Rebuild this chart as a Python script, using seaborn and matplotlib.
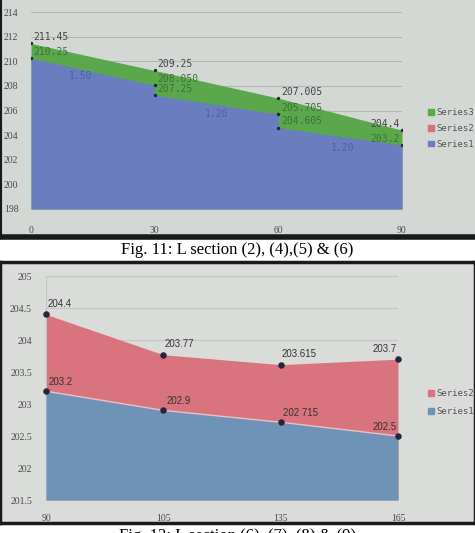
import numpy as np
import pandas as pd
import matplotlib
matplotlib.use("Agg")
import matplotlib.pyplot as plt
import seaborn as sns
from matplotlib.patches import Patch

# Fig. 11 values (chainage vs level)
ch1_x = [0, 30, 60, 90]
series3_top = [211.45, 209.25, 207.005, 204.4]
bed_x = [0, 30, 30, 60, 60, 90]
series1_bed = [210.25, 208.05, 207.25, 205.705, 204.605, 203.2]
bed_labels = ["210.25", "208.050", "207.25", "205.705", "204.605", "203.2"]
slope_labels = ["1.50", "1.20", "1.20"]
slope_pos = [(12, 208.8), (45, 205.75), (75.5, 202.95)]
ticks1 = [198, 200, 202, 204, 206, 208, 210, 212, 214]

# Fig. 12 values
ch2 = ["90", "105", "135", "165"]
series2_top = [204.4, 203.77, 203.615, 203.7]
series1_low = [203.2, 202.9, 202.715, 202.5]
top2_labels = ["204.4", "203.77", "203.615", "203.7"]
low2_labels = ["203.2", "202.9", "202 715", "202.5"]
ticks2 = [201.5, 202, 202.5, 203, 203.5, 204, 204.5, 205]

sns.set_style("white")
plt.rcParams["font.family"] = ["DejaVu Sans"]

W, H = 475, 533
fig = plt.figure(figsize=(W / 100, H / 100), dpi=100)
fig.patch.set_facecolor("white")


def px(l, t, r, b):
    return [l / W, 1 - b / H, (r - l) / W, (b - t) / H]


tick_font = dict(family="Liberation Serif", size=7, color="#4a4a4a")
mono = "DejaVu Sans Mono"

# ---------- photo 1 ----------
bg1 = fig.add_axes(px(0, 0, W, 237))
bg1.set_facecolor("#d4d8d5")
bg1.set_xticks([]); bg1.set_yticks([])
for s in ["top", "right"]:
    bg1.spines[s].set_visible(False)
bg1.spines["left"].set_color("#1a1a1a"); bg1.spines["left"].set_linewidth(3)
bg1.spines["bottom"].set_color("#1a1a1a"); bg1.spines["bottom"].set_linewidth(4)

ax1 = fig.add_axes(px(31, 12, 402, 209))
ax1.set_facecolor("none")
ax1.set_xlim(0, 90)
ax1.set_ylim(198, 214)
ax1.set_yticks(ticks1)
ax1.set_xticks(ch1_x)
ax1.grid(axis="y", color="#b4b8b5", linewidth=0.8)
ax1.set_axisbelow(True)
for s in ax1.spines.values():
    s.set_visible(False)
ax1.tick_params(length=0, pad=9)
ax1.tick_params(axis="x", pad=12)
for lab in ax1.get_xticklabels() + ax1.get_yticklabels():
    lab.set(**tick_font)

green, blue1, red = "#5aa84b", "#6a7ebf", "#d9707c"
ax1.fill_between(ch1_x, 198, series3_top, color=green, lw=0, zorder=2)
ax1.fill_between(bed_x, 198, series1_bed, color=blue1, lw=0, zorder=3)

df_top = pd.DataFrame({"x": ch1_x, "y": series3_top})
df_bed = pd.DataFrame({"x": bed_x, "y": series1_bed})
sns.scatterplot(data=df_top, x="x", y="y", ax=ax1, color="#1f2a2a", s=6,
                linewidth=0, zorder=5)
sns.scatterplot(data=df_bed, x="x", y="y", ax=ax1, color="#1f2a2a", s=6,
                linewidth=0, zorder=5)
ax1.set_xlabel(""); ax1.set_ylabel("")

for i, (x, y) in enumerate(zip(ch1_x, series3_top)):
    ha = "right" if x == 90 else "left"
    dx = -2 if x == 90 else 2
    ax1.annotate(f"{y:g}", (x, y), xytext=(dx, 1), textcoords="offset points",
                 ha=ha, va="bottom", family=mono, size=7, color="#444444",
                 zorder=6, annotation_clip=False)
for x, y, t in zip(bed_x, series1_bed, bed_labels):
    ha = "right" if x == 90 else "left"
    dx = -2 if x == 90 else 2
    ax1.annotate(t, (x, y), xytext=(dx, 1), textcoords="offset points",
                 ha=ha, va="bottom", family=mono, size=7, color="#3f6f3a",
                 zorder=6)
for t, (x, y) in zip(slope_labels, slope_pos):
    ax1.text(x, y, t, ha="center", va="center", family=mono, size=7,
             color="#4e5fa0", zorder=6)

leg1 = [Patch(color=green, label="Series3"), Patch(color=red, label="Series2"),
        Patch(color=blue1, label="Series1")]
fig.legend(handles=leg1, loc="upper left", bbox_to_anchor=(420 / W, 1 - 100 / H),
           frameon=False, prop=dict(family=mono, size=6.5), labelcolor="#555555",
           handlelength=0.6, handleheight=0.6, handletextpad=0.3, labelspacing=0.75)

fig.text(0.5, 1 - 250 / H, "Fig. 11: L section (2), (4),(5) & (6)", ha="center",
         va="center", family="Liberation Serif", size=12, color="black")

# ---------- photo 2 ----------
bg2 = fig.add_axes(px(0, 262, W, 523))
bg2.set_facecolor("#d9dcd9")
bg2.set_xticks([]); bg2.set_yticks([])
for s in bg2.spines.values():
    s.set_color("#1a1a1a"); s.set_linewidth(2.5)

ax2 = fig.add_axes(px(46, 276, 398, 500))
ax2.set_facecolor("none")
pos = np.arange(len(ch2))
ax2.set_xlim(0, len(ch2) - 1)
ax2.set_ylim(201.5, 205)
ax2.set_yticks(ticks2)
ax2.set_yticklabels([f"{v:g}" for v in ticks2])
ax2.set_xticks(pos)
ax2.set_xticklabels(ch2)
ax2.grid(axis="y", color="#c2c5c2", linewidth=0.8)
ax2.set_axisbelow(True)
for s in ax2.spines.values():
    s.set_visible(False)
ax2.spines["left"].set_visible(True)
ax2.spines["left"].set_color("#c2c5c2")
ax2.tick_params(length=0, pad=10)
ax2.tick_params(axis="x", pad=10)
for lab in ax2.get_xticklabels() + ax2.get_yticklabels():
    lab.set(**tick_font)

blue2, red2 = "#6f93b6", "#d9737e"
ax2.fill_between(pos, 201.5, series2_top, color=red2, lw=0, zorder=2)
ax2.fill_between(pos, 201.5, series1_low, color=blue2, lw=0, zorder=3)
ax2.plot(pos, series1_low, color="#e7c3c8", lw=1, zorder=4)

df2 = pd.DataFrame({"x": np.concatenate([pos, pos]),
                    "y": series2_top + series1_low})
sns.scatterplot(data=df2, x="x", y="y", ax=ax2, color="#262838", s=22,
                linewidth=0, zorder=5, clip_on=False)
ax2.set_xlabel(""); ax2.set_ylabel("")

for i, (y, t) in enumerate(zip(series2_top, top2_labels)):
    last = i == len(ch2) - 1
    ax2.annotate(t, (pos[i], y), xytext=(-1 if last else 1, 4),
                 textcoords="offset points", ha="right" if last else "left",
                 va="bottom", family="Liberation Sans", size=7, color="#333333",
                 zorder=6, annotation_clip=False)
for i, (y, t) in enumerate(zip(series1_low, low2_labels)):
    last = i == len(ch2) - 1
    ax2.annotate(t, (pos[i], y), xytext=(-1 if last else 2, 3),
                 textcoords="offset points", ha="right" if last else "left",
                 va="bottom", family="Liberation Sans", size=7, color="#333333",
                 zorder=6)

leg2 = [Patch(color=red2, label="Series2"), Patch(color=blue2, label="Series1")]
fig.legend(handles=leg2, loc="upper left", bbox_to_anchor=(420 / W, 1 - 381 / H),
           frameon=False, prop=dict(family=mono, size=6.5), labelcolor="#555555",
           handlelength=0.6, handleheight=0.6, handletextpad=0.3, labelspacing=1.0)

fig.text(0.5, 1 - 536 / H, "Fig. 12: L section (6), (7), (8) & (9)", ha="center",
         va="center", family="Liberation Serif", size=12, color="black")

fig.savefig("out.png", dpi=100)
